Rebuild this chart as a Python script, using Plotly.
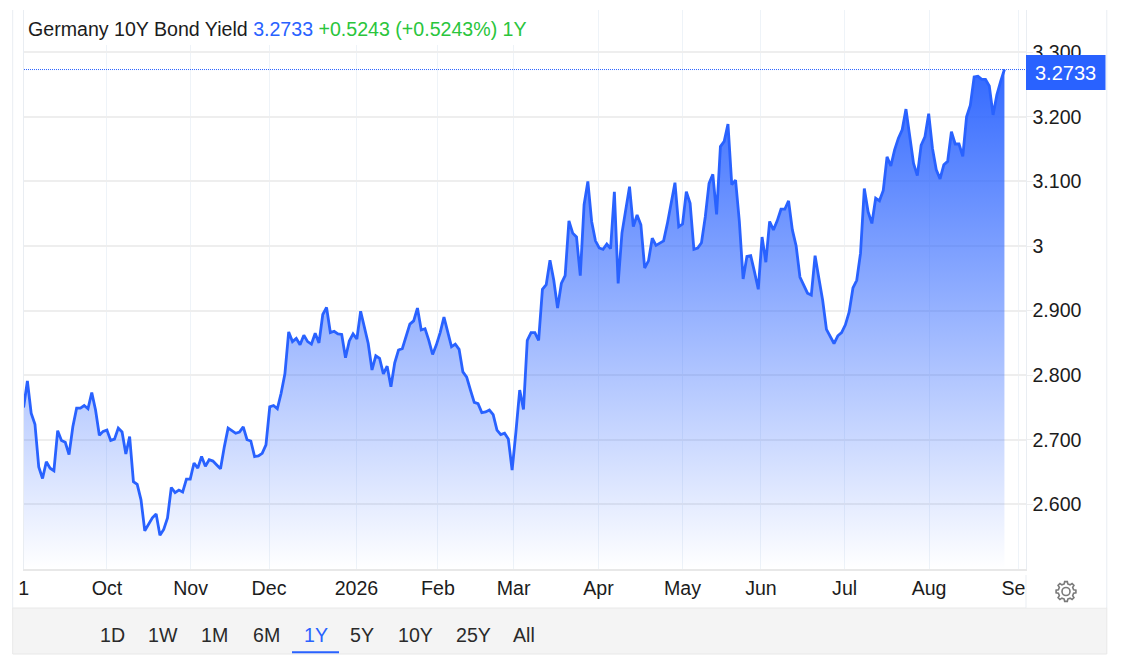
import math
import plotly.graph_objects as go

WIDTH = 1121
HEIGHT = 670

# daily closes (one per trading day)
yields = [
    2.750, 2.791, 2.741, 2.724, 2.658, 2.640, 2.666, 2.656, 2.652, 2.714,
    2.699, 2.696, 2.677, 2.720, 2.749, 2.749, 2.753, 2.748, 2.773, 2.746,
    2.707, 2.713, 2.715, 2.699, 2.701, 2.718, 2.712, 2.678, 2.705, 2.635,
    2.631, 2.607, 2.559, 2.570, 2.579, 2.585, 2.552, 2.561, 2.579, 2.626,
    2.618, 2.622, 2.619, 2.639, 2.639, 2.664, 2.656, 2.674, 2.659, 2.669,
    2.667, 2.661, 2.655, 2.689, 2.718, 2.714, 2.710, 2.712, 2.720, 2.700,
    2.698, 2.674, 2.675, 2.679, 2.692, 2.751, 2.753, 2.748, 2.772, 2.802,
    2.867, 2.852, 2.857, 2.847, 2.862, 2.852, 2.848, 2.865, 2.850, 2.894,
    2.905, 2.866, 2.868, 2.864, 2.863, 2.827, 2.853, 2.864, 2.856, 2.899,
    2.875, 2.849, 2.808, 2.830, 2.826, 2.802, 2.814, 2.782, 2.819, 2.839,
    2.841, 2.860, 2.879, 2.884, 2.904, 2.870, 2.872, 2.854, 2.832, 2.847,
    2.866, 2.890, 2.865, 2.844, 2.848, 2.840, 2.805, 2.797, 2.777, 2.758,
    2.756, 2.742, 2.743, 2.746, 2.739, 2.715, 2.708, 2.710, 2.701, 2.653,
    2.712, 2.777, 2.747, 2.854, 2.866, 2.866, 2.854, 2.933, 2.940, 2.978,
    2.947, 2.904, 2.942, 2.954, 3.039, 3.020, 3.014, 2.954, 3.064, 3.100,
    3.038, 3.008, 2.997, 2.995, 3.003, 2.996, 3.084, 2.942, 3.020, 3.053,
    3.092, 3.030, 3.048, 3.033, 2.966, 2.977, 3.012, 3.001, 3.005, 3.008,
    3.035, 3.064, 3.098, 3.030, 3.034, 3.084, 3.066, 2.995, 2.997, 3.005,
    3.045, 3.097, 3.111, 3.049, 3.154, 3.162, 3.189, 3.095, 3.102, 3.038,
    2.949, 2.984, 2.985, 2.960, 2.933, 3.014, 2.975, 3.038, 3.025, 3.039,
    3.057, 3.057, 3.070, 3.025, 3.000, 2.952, 2.940, 2.927, 2.924, 2.985,
    2.950, 2.916, 2.871, 2.860, 2.849, 2.861, 2.866, 2.878, 2.898, 2.935,
    2.947, 2.989, 3.089, 3.053, 3.035, 3.074, 3.070, 3.086, 3.138, 3.124,
    3.149, 3.167, 3.180, 3.212, 3.172, 3.128, 3.109, 3.156, 3.169, 3.205,
    3.151, 3.118, 3.104, 3.126, 3.131, 3.177, 3.158, 3.158, 3.139, 3.200,
    3.218, 3.262, 3.263, 3.258, 3.258, 3.248, 3.203, 3.234, 3.255, 3.2733,
]
trading_day = list(range(len(yields)))

# month labels sit at these trading-day positions
month_ticks = [0, 22.0, 44.1, 64.8, 87.9, 109.4, 129.4, 151.8, 174.0, 194.7, 216.8, 239.1, 262.8]
month_labels = ["1", "Oct", "Nov", "Dec", "2026", "Feb", "Mar", "Apr", "May", "Jun", "Jul", "Aug", "Sep"]

yield_ticks = [2.6, 2.7, 2.8, 2.9, 3.0, 3.1, 3.2, 3.3]
yield_labels = ["2.600", "2.700", "2.800", "2.900", "3", "3.100", "3.200", "3.300"]

range_buttons = ["1D", "1W", "1M", "6M", "1Y", "5Y", "10Y", "25Y", "All"]
button_centers = [112, 162.5, 214, 266, 316, 362, 415, 473, 524]

BLUE = "#2962ff"
GREEN = "#2ac53c"
TEXT = "#1c1c1c"
FONT = "Liberation Sans"
FONT_SIZE = 19.6


def px(x):
    return x / WIDTH


def py(y):
    return 1 - y / HEIGHT


def box(x0, y0, x1, y1, fill, line="rgba(0,0,0,0)", width=1):
    return dict(type="rect", xref="paper", yref="paper", layer="above",
                x0=px(x0), y0=py(y0), x1=px(x1), y1=py(y1),
                fillcolor=fill, line=dict(color=line, width=width))


def vline(x, y0, y1, color):
    return dict(type="line", xref="paper", yref="paper", layer="above",
                x0=px(x), y0=py(y0), x1=px(x), y1=py(y1),
                line=dict(color=color, width=1))


def gear_path(cx, cy, outer, inner, teeth=8):
    pts = []
    for k in range(teeth):
        a = 2 * math.pi * k / teeth
        step = 2 * math.pi / teeth
        for off, r in [(-0.30, inner), (-0.17, outer), (0.17, outer), (0.30, inner)]:
            t = a + off * step
            pts.append((cx + r * math.cos(t), cy + r * math.sin(t)))
    return "M" + " L".join(f"{px(x):.5f},{py(y):.5f}" for x, y in pts) + " Z"


fig = go.Figure()

fig.add_trace(go.Scatter(
    x=trading_day,
    y=yields,
    mode="lines",
    line=dict(color=BLUE, width=2.8),
    fill="tozeroy",
    fillgradient=dict(
        type="vertical",
        start=yields[-1],
        stop=2.5,
        colorscale=[[0, "rgba(41,98,255,0.95)"], [1, "rgba(41,98,255,0)"]],
    ),
    hoverinfo="skip",
))

shapes = [
    # white strip behind the title hides the month gridlines
    box(24.2, 10, 533, 45, "white"),
    # last value guide
    dict(type="line", xref="paper", yref="y", layer="above",
         x0=px(24), x1=px(1026), y0=yields[-1], y1=yields[-1],
         line=dict(color=BLUE, width=1, dash="1px,1px")),
    # card frame and bottom bar
    vline(12.7, 10, 608, "#e9edf2"),
    vline(1106.8, 10, 608, "#e9edf2"),
    box(12.7, 608, 1106.8, 654, "#f4f4f4", "#e8e8e8", 1),
    # clips the Sep label and carries the settings corner
    box(1026, 571, 1106, 607.5, "white"),
    vline(1026, 575, 608, "#e9edf2"),
    # underline of the active range
    box(292, 651.2, 339, 653.2, BLUE),
    # last value tag
    box(1026, 55, 1105.5, 90, BLUE),
    # settings gear
    dict(type="path", xref="paper", yref="paper", layer="above",
         path=gear_path(1066, 591.5, 10, 7.8), line=dict(color="#7a7a7a", width=1.6)),
    dict(type="circle", xref="paper", yref="paper", layer="above",
         x0=px(1062), x1=px(1070), y0=py(587.5), y1=py(595.5),
         line=dict(color="#7a7a7a", width=1.6)),
]

annotations = [
    dict(
        text=(f'<span style="color:{TEXT}">Germany 10Y Bond Yield</span> '
              f'<span style="color:{BLUE}">3.2733</span> '
              f'<span style="color:{GREEN}">+0.5243 (+0.5243%) 1Y</span>'),
        xref="paper", yref="paper", x=px(25.5), y=py(28.5),
        xanchor="left", yanchor="middle", showarrow=False,
        font=dict(family=FONT, size=FONT_SIZE),
    ),
    dict(
        text=f"{yields[-1]:.4f}",
        xref="paper", yref="paper", x=px(1065.7), y=py(73),
        xanchor="center", yanchor="middle", showarrow=False,
        font=dict(family=FONT, size=20, color="white"),
    ),
]

for label, center in zip(range_buttons, button_centers):
    annotations.append(dict(
        text=label,
        xref="paper", yref="paper", x=px(center), y=py(635),
        xanchor="center", yanchor="middle", showarrow=False,
        font=dict(family=FONT, size=FONT_SIZE, color=BLUE if label == "1Y" else "#2a2a2a"),
    ))

fig.update_layout(
    width=WIDTH,
    height=HEIGHT,
    margin=dict(l=0, r=0, t=0, b=0, autoexpand=False),
    paper_bgcolor="white",
    plot_bgcolor="white",
    showlegend=False,
    font=dict(family=FONT, size=FONT_SIZE, color=TEXT),
    shapes=shapes,
    annotations=annotations,
    xaxis=dict(
        domain=[px(23.6), px(1025.5)],
        range=[0, (1025.5 - 23.6) / 3.787],
        tickmode="array",
        tickvals=month_ticks,
        ticktext=month_labels,
        tickangle=0,
        ticks="outside",
        ticklen=1,
        tickcolor="rgba(0,0,0,0)",
        showgrid=True,
        gridcolor="#eef3f8",
        gridwidth=1,
        showline=True,
        linecolor="#e8e8e8",
        linewidth=2,
        zeroline=False,
    ),
    yaxis=dict(
        domain=[py(568.9), py(10)],
        range=[2.5, 3.3655],
        side="right",
        tickmode="array",
        tickvals=yield_ticks,
        ticktext=yield_labels,
        ticks="outside",
        ticklen=6,
        ticklabelstandoff=-4,
        tickcolor="#eeeeee",
        showgrid=True,
        gridcolor="#eeeeee",
        gridwidth=1.5,
        showline=True,
        mirror=True,
        linecolor="#e9edf2",
        linewidth=1,
        zeroline=False,
    ),
)

fig.write_html("out.html", config={"displayModeBar": False},
               post_script="document.body.style.margin='0';")
